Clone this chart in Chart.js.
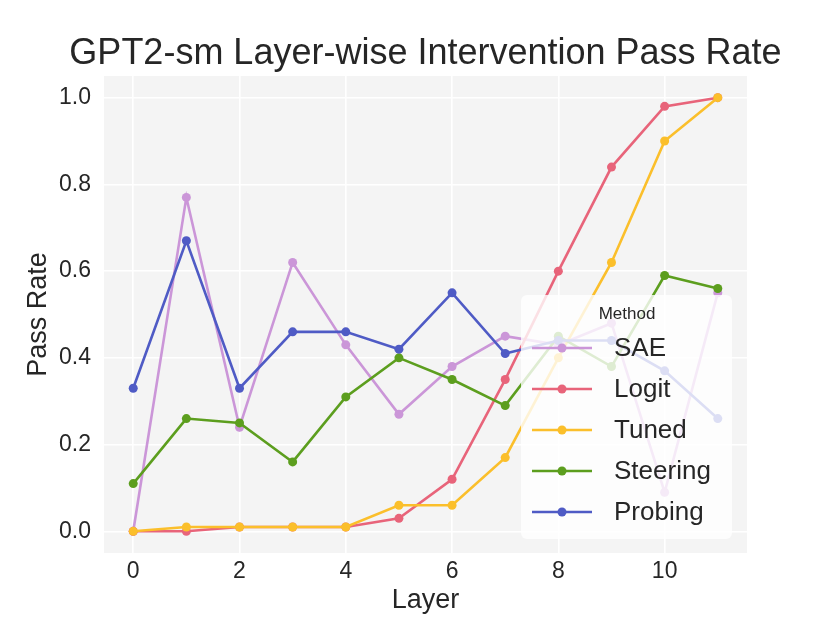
<!DOCTYPE html>
<html>
<head>
<meta charset="utf-8">
<script src="https://cdn.jsdelivr.net/npm/chart.js@4.4.1/dist/chart.umd.min.js"></script>
<style>
  html, body { margin: 0; padding: 0; background: #ffffff; }
  #wrap { width: 830px; height: 623px; }
</style>
</head>
<body>
<div id="wrap"><canvas id="chart" width="830" height="623"></canvas></div>
<script>
// Dados
const layers = [0, 1, 2, 3, 4, 5, 6, 7, 8, 9, 10, 11];
const sae      = [0.00, 0.77, 0.24, 0.62, 0.43, 0.27, 0.38, 0.45, 0.43, 0.48, 0.09, 0.55];
const logit    = [0.00, 0.00, 0.01, 0.01, 0.01, 0.03, 0.12, 0.35, 0.60, 0.84, 0.98, 1.00];
const tuned    = [0.00, 0.01, 0.01, 0.01, 0.01, 0.06, 0.06, 0.17, 0.40, 0.62, 0.90, 1.00];
const steering = [0.11, 0.26, 0.25, 0.16, 0.31, 0.40, 0.35, 0.29, 0.45, 0.38, 0.59, 0.56];
const probing  = [0.33, 0.67, 0.33, 0.46, 0.46, 0.42, 0.55, 0.41, 0.44, 0.44, 0.37, 0.26];

const xTicks = [0, 2, 4, 6, 8, 10];
const yTicks = [0.0, 0.2, 0.4, 0.6, 0.8, 1.0];

const methods = ['SAE', 'Logit', 'Tuned', 'Steering', 'Probing'];
const series = [sae, logit, tuned, steering, probing];
const colors = ['#cb96d8', '#e8647a', '#fbbf2b', '#5c9e1e', '#4f5bc5'];

const TITLE = 'GPT2-sm Layer-wise Intervention Pass Rate';
const FONT = "'Liberation Sans', Arial, Helvetica, sans-serif";
const TEXT = '#262626';

// Fundo cinza da área do gráfico
const plotBg = {
  id: 'plotBg',
  beforeDraw(chart) {
    const { ctx, chartArea: a } = chart;
    ctx.save();
    ctx.fillStyle = '#f4f4f4';
    ctx.fillRect(a.left, a.top, a.right - a.left, a.bottom - a.top);
    ctx.restore();
  }
};

// Título centrado sobre a área do gráfico (como no matplotlib)
const axesTitle = {
  id: 'axesTitle',
  afterDraw(chart) {
    const { ctx, chartArea: a } = chart;
    ctx.save();
    ctx.fillStyle = TEXT;
    ctx.font = '36px ' + FONT;
    ctx.textAlign = 'center';
    ctx.textBaseline = 'alphabetic';
    ctx.fillText(TITLE, (a.left + a.right) / 2, 64);
    ctx.restore();
  }
};

// Legenda dentro da área do gráfico
const innerLegend = {
  id: 'innerLegend',
  afterDatasetsDraw(chart) {
    const ctx = chart.ctx;
    const bx = 521, by = 295, bw = 211, bh = 244, r = 6;
    ctx.save();
    ctx.fillStyle = 'rgba(255,255,255,0.8)';
    ctx.beginPath();
    ctx.roundRect(bx, by, bw, bh, r);
    ctx.fill();

    ctx.fillStyle = TEXT;
    ctx.font = '17px ' + FONT;
    ctx.textAlign = 'center';
    ctx.textBaseline = 'middle';
    ctx.fillText('Method', 627, 314);

    chart.data.datasets.forEach((ds, i) => {
      const y = 348 + i * 41;
      ctx.strokeStyle = ds.borderColor;
      ctx.lineWidth = 2.6;
      ctx.beginPath();
      ctx.moveTo(532, y);
      ctx.lineTo(592, y);
      ctx.stroke();
      ctx.fillStyle = ds.borderColor;
      ctx.beginPath();
      ctx.arc(562, y, 4.5, 0, Math.PI * 2);
      ctx.fill();
      ctx.fillStyle = TEXT;
      ctx.font = '26px ' + FONT;
      ctx.textAlign = 'left';
      ctx.fillText(ds.label, 614, y + 1);
    });
    ctx.restore();
  }
};

const datasets = methods.map((m, i) => ({
  label: m,
  data: layers.map((x, j) => ({ x: x, y: series[i][j] })),
  borderColor: colors[i],
  backgroundColor: colors[i],
  borderWidth: 2.6,
  pointRadius: 4.5,
  pointHoverRadius: 4.5,
  pointBorderWidth: 0,
  tension: 0,
  order: methods.length - i
}));

new Chart(document.getElementById('chart'), {
  type: 'line',
  data: { datasets: datasets },
  plugins: [plotBg, innerLegend, axesTitle],
  options: {
    responsive: false,
    animation: false,
    layout: { padding: { left: 0, right: 83, top: 76, bottom: 0 } },
    plugins: {
      legend: { display: false },
      tooltip: { enabled: false },
      title: { display: false }
    },
    scales: {
      x: {
        type: 'linear',
        min: -0.55,
        max: 11.55,
        border: { display: false },
        grid: { color: '#ffffff', lineWidth: 1.6, drawTicks: false },
        afterBuildTicks(scale) { scale.ticks = xTicks.map(v => ({ value: v })); },
        afterFit(scale) { scale.height = 70; },
        ticks: {
          color: TEXT,
          padding: 5,
          font: { family: FONT, size: 23 },
          callback: v => String(v)
        },
        title: {
          display: true,
          text: 'Layer',
          color: TEXT,
          font: { family: FONT, size: 27, lineHeight: 1.2 },
          padding: { top: 0, bottom: 6 }
        }
      },
      y: {
        type: 'linear',
        min: -0.05,
        max: 1.05,
        border: { display: false },
        grid: { color: '#ffffff', lineWidth: 1.6, drawTicks: false },
        afterBuildTicks(scale) { scale.ticks = yTicks.map(v => ({ value: v })); },
        afterFit(scale) { scale.width = 104; },
        ticks: {
          color: TEXT,
          padding: 13,
          font: { family: FONT, size: 23 },
          callback: v => Number(v).toFixed(1)
        },
        title: {
          display: true,
          text: 'Pass Rate',
          color: TEXT,
          font: { family: FONT, size: 27, lineHeight: 1.2 },
          padding: { top: 22, bottom: 0 }
        }
      }
    }
  }
});
</script>
</body>
</html>
